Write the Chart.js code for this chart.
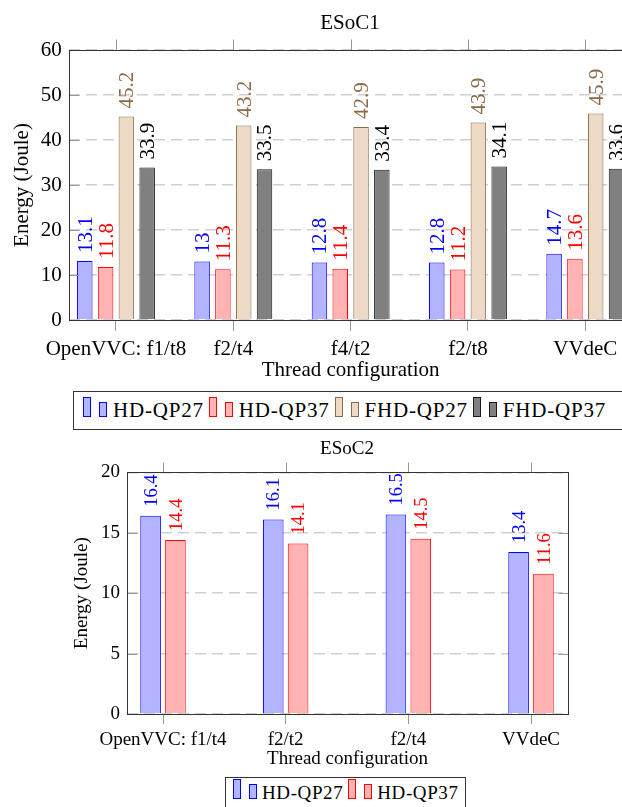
<!DOCTYPE html>
<html>
<head>
<meta charset="utf-8">
<script src="https://cdn.jsdelivr.net/npm/chart.js@4.4.1/dist/chart.umd.min.js"></script>
<style>
  html, body { margin: 0; padding: 0; background: #fff; }
  body { width: 622px; height: 807px; position: relative; overflow: hidden; font-family: "Liberation Serif", serif; color: #000; }
  .wrap { position: absolute; left: 0; overflow: hidden; }
  .title { position: absolute; transform: translate(-50%, -50%); line-height: 1; white-space: nowrap; }
  .legend { position: absolute; border: 1px solid #333; box-sizing: border-box; white-space: nowrap; background: #fff; }
  .legend .sw { display: inline-block; width: 6px; vertical-align: baseline; border: 1px solid; }
</style>
</head>
<body>
<div class="wrap" style="top:0;width:622px;height:385px;"><canvas id="c1" width="632" height="385"></canvas></div>
<div class="title" style="left:350px;top:22px;font-size:21px;">ESoC1</div>
<div class="legend" id="legend1" style="left:73px;top:391px;width:600px;height:39px;font-size:21px;"></div>

<div class="wrap" style="top:430px;width:622px;height:342px;"><canvas id="c2" width="622" height="342"></canvas></div>
<div class="title" style="left:347px;top:447px;font-size:19px;">ESoC2</div>
<div class="legend" id="legend2" style="left:225px;top:777px;width:241px;height:31px;font-size:19px;"></div>

<script>
// ESoC1 data
const cats1 = ['OpenVVC: f1/t8', 'f2/t4', 'f4/t2', 'f2/t8', 'VVdeC'];
const hdQp27a = [13.1, 13, 12.8, 12.8, 14.7];
const hdQp37a = [11.8, 11.3, 11.4, 11.2, 13.6];
const fhdQp27a = [45.2, 43.2, 42.9, 43.9, 45.9];
const fhdQp37a = [33.9, 33.5, 33.4, 34.1, 33.6];

// ESoC2 data
const cats2 = ['OpenVVC: f1/t4', 'f2/t2', 'f2/t4', 'VVdeC'];
const hdQp27b = [16.4, 16.1, 16.5, 13.4];
const hdQp37b = [14.4, 14.1, 14.5, 11.6];

const names = ['HD-QP27', 'HD-QP37', 'FHD-QP27', 'FHD-QP37'];

const styles = [
  { fill: '#b3b3ff', line: '#0000ff', text: '#0000ff' },
  { fill: '#ffb3b3', line: '#ff0000', text: '#ff0000' },
  { fill: '#ecd9c6', line: '#8c6a46', text: '#8c6a46' },
  { fill: '#808080', line: '#1a1a1a', text: '#000000' }
];

const SERIF = '"Liberation Serif", "Times New Roman", serif';
Chart.defaults.font.family = SERIF;
Chart.defaults.color = '#000';

// pgfplots look: framed box, outside x ticks, inside y ticks, rotated value labels
const pgfAxis = {
  id: 'pgfAxis',
  afterDatasetsDraw(chart, args, o) {
    const ctx = chart.ctx;
    ctx.save();
    ctx.font = 'normal ' + o.valueFont + 'px ' + SERIF;
    ctx.textAlign = 'left';
    ctx.textBaseline = 'alphabetic';
    chart.data.datasets.forEach((ds, di) => {
      const meta = chart.getDatasetMeta(di);
      meta.data.forEach((bar, i) => {
        ctx.save();
        ctx.translate(bar.x + o.valueFont * 0.33, bar.y - o.valueGap);
        ctx.rotate(-Math.PI / 2);
        ctx.fillStyle = ds.labelColor;
        ctx.fillText(String(ds.data[i].y), 0, 0);
        ctx.restore();
      });
    });
    ctx.restore();
  },
  afterDraw(chart, args, o) {
    const { ctx, chartArea: a, scales: { x, y } } = chart;
    const L = Math.round(a.left) + 0.5, R = Math.round(a.right) + 0.5;
    const T = Math.round(a.top) + 0.5, B = Math.round(a.bottom) + 0.5;
    ctx.save();
    ctx.lineWidth = 1;
    ctx.strokeStyle = '#999';
    ctx.beginPath();
    x.ticks.forEach(t => {
      const px = Math.round(x.getPixelForValue(t.value)) + 0.5;
      ctx.moveTo(px, T - o.xTick);
      ctx.lineTo(px, T);
    });
    y.ticks.forEach(t => {
      const py = Math.round(y.getPixelForValue(t.value)) + 0.5;
      ctx.moveTo(L, py); ctx.lineTo(L + o.yTick, py);
      ctx.moveTo(R, py); ctx.lineTo(R - o.yTick, py);
    });
    ctx.stroke();
    ctx.strokeStyle = '#333';
    ctx.strokeRect(L, T, R - L, B - T);
    ctx.restore();
  }
};

function makeDatasets(seriesList, catPct, barPct) {
  return seriesList.map((vals, si) => ({
    label: names[si],
    data: vals.map((v, i) => ({ x: i, y: v })),
    backgroundColor: styles[si].fill,
    borderColor: styles[si].line,
    borderWidth: 1,
    labelColor: styles[si].text,
    categoryPercentage: catPct,
    barPercentage: barPct
  }));
}

function makeChart(id, cats, datasets, cfg) {
  return new Chart(document.getElementById(id), {
    type: 'bar',
    data: { datasets: datasets },
    options: {
      responsive: false,
      animation: false,
      layout: { padding: cfg.padding },
      plugins: {
        legend: { display: false },
        tooltip: { enabled: false },
        pgfAxis: { valueFont: cfg.valueFont, valueGap: cfg.valueGap, xTick: cfg.xTick, yTick: cfg.yTick }
      },
      scales: {
        x: {
          type: 'linear',
          min: cfg.xMin,
          max: cfg.xMax,
          offset: false,
          afterBuildTicks: ax => { ax.ticks = cats.map((c, i) => ({ value: i })); },
          afterFit: ax => { ax.height = cfg.xHeight; },
          ticks: {
            callback: v => cats[v],
            autoSkip: false, maxRotation: 0, minRotation: 0,
            padding: cfg.xPad, color: '#000', font: { size: cfg.font }
          },
          grid: { drawOnChartArea: false, drawTicks: true, tickLength: cfg.xTick, tickColor: '#999', offset: false },
          border: { display: false },
          title: { display: true, text: 'Thread configuration', color: '#000', font: { size: cfg.font }, padding: { top: 0, bottom: cfg.xTitlePad } }
        },
        y: {
          min: 0,
          max: cfg.yMax,
          afterFit: ax => { ax.width = cfg.yWidth; },
          ticks: { stepSize: cfg.yStep, padding: cfg.yPad, color: '#000', font: { size: cfg.font } },
          grid: { color: '#d0d0d0', lineWidth: 1.5, drawTicks: false },
          border: { display: false, dash: [11, 6] },
          title: { display: true, text: 'Energy (Joule)', color: '#000', font: { size: cfg.font }, padding: { top: cfg.yTitlePad, bottom: 0 } }
        }
      }
    },
    plugins: [pgfAxis]
  });
}

makeChart('c1', cats1, makeDatasets([hdQp27a, hdQp37a, fhdQp27a, fhdQp37a], 0.709, 0.745), {
  padding: { top: 50, left: 0, right: 0, bottom: 0 },
  xMin: -0.397, xMax: 4.398, xHeight: 65, xPad: 5.4, xTitlePad: 2.4, xTick: 11,
  yMax: 60, yStep: 10, yWidth: 69.4, yPad: 7.7, yTitlePad: 9.4, yTick: 10,
  font: 21, valueFont: 21, valueGap: 8
});

makeChart('c2', cats2, makeDatasets([hdQp27b, hdQp37b], 0.405, 0.83), {
  padding: { top: 42.3, left: 66.7, right: 53.7, bottom: 0 },
  xMin: -0.296, xMax: 3.304, xHeight: 58, xPad: 4.6, xTitlePad: 1.1, xTick: 10,
  yMax: 20, yStep: 5, yWidth: 60, yPad: 6.7, yTitlePad: 4.4, yTick: 10,
  font: 19, valueFont: 18.5, valueGap: 9
});

// legends with pgfplots style double-bar icons
function buildLegend(id, count, opt) {
  const box = document.getElementById(id);
  box.style.paddingLeft = opt.padLeft + 'px';
  box.style.paddingTop = opt.padTop + 'px';
  box.style.lineHeight = opt.lineHeight + 'px';
  for (let i = 0; i < count; i++) {
    const tall = document.createElement('span');
    tall.className = 'sw';
    tall.style.height = (opt.tall - 2) + 'px';
    tall.style.background = styles[i].fill;
    tall.style.borderColor = styles[i].line;
    tall.style.marginLeft = (i === 0 ? 0 : opt.itemGap) + 'px';
    const short = tall.cloneNode();
    short.style.height = (opt.short - 2) + 'px';
    short.style.marginLeft = '8px';
    const txt = document.createElement('span');
    txt.textContent = names[i];
    txt.style.marginLeft = opt.textGap + 'px';
    txt.style.letterSpacing = opt.spacing + 'px';
    box.appendChild(tall);
    box.appendChild(short);
    box.appendChild(txt);
  }
}

buildLegend('legend1', 4, { padLeft: 9, padTop: 3, lineHeight: 30, tall: 20, short: 15, textGap: 6, itemGap: 5, spacing: 0.8 });
buildLegend('legend2', 2, { padLeft: 7, padTop: 1, lineHeight: 27, tall: 20, short: 15, textGap: 5, itemGap: 5, spacing: 0.6 });
</script>
</body>
</html>
